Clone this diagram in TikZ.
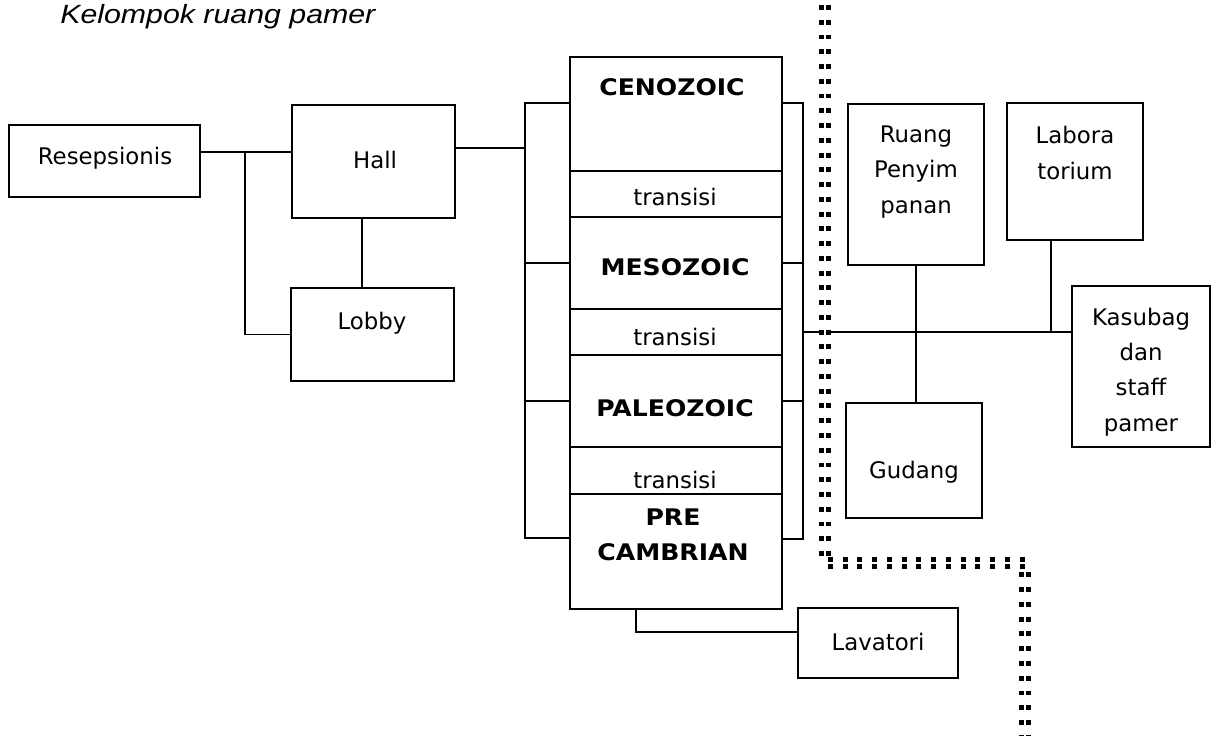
\documentclass[tikz,border=0pt]{standalone}
\usepackage{fontspec}
\setmainfont{DejaVu Sans}
\newfontfamily\titlefont{Liberation Sans}
\newcommand\widen[1]{\scalebox{1.1}[1]{#1}}
\begin{document}
\begin{tikzpicture}[x=0.02cm,y=-0.02cm,
  box/.style={draw, line width=1.5pt, inner sep=0pt},
  txt/.style={font=\fontsize{13}{20}\selectfont, align=center, inner sep=0pt},
  btxt/.style={font=\fontsize{13}{20}\selectfont\bfseries, align=center, inner sep=0pt},
  conn/.style={line width=0.8pt},
  zone/.style={line width=2.6pt, double distance=1.1pt, dash pattern=on 2.8pt off 5.6pt}]
\useasboundingbox (0,0) rectangle (1216,735);
% title
\node[anchor=base west, inner sep=0pt, font=\titlefont\itshape\fontsize{15}{18}\selectfont] (title) at (60,23) {\scalebox{1.15}[1]{Kelompok ruang pamer}};
% left group
\node[box, minimum width=191*0.02cm, minimum height=72*0.02cm] (res) at (104.5,161) {};
\node[txt] (tres) at (105,158) {Resepsionis};
\node[box, minimum width=163*0.02cm, minimum height=113*0.02cm] (hall) at (373.5,161.5) {};
\node[txt] (thall) at (375,160) {Hall};
\node[box, minimum width=163*0.02cm, minimum height=93*0.02cm] (lobby) at (372.5,334.5) {};
\node[txt] (tlobby) at (372,323) {Lobby};
% column
\node[box, minimum width=212*0.02cm, minimum height=114*0.02cm] (ceno) at (676,114) {};
\node[box, minimum width=212*0.02cm, minimum height=46*0.02cm] (tr1) at (676,194) {};
\node[box, minimum width=212*0.02cm, minimum height=92*0.02cm] (meso) at (676,263) {};
\node[box, minimum width=212*0.02cm, minimum height=46*0.02cm] (tr2) at (676,332) {};
\node[box, minimum width=212*0.02cm, minimum height=92*0.02cm] (paleo) at (676,401) {};
\node[box, minimum width=212*0.02cm, minimum height=47*0.02cm] (tr3) at (676,470.5) {};
\node[box, minimum width=212*0.02cm, minimum height=115*0.02cm] (pre) at (676,551.5) {};
\node[btxt] (tceno) at (672,87) {\widen{CENOZOIC}};
\node[txt] (ttr1) at (675,197) {transisi};
\node[btxt] (tmeso) at (675,267) {\widen{MESOZOIC}};
\node[txt] (ttr2) at (675,337) {transisi};
\node[btxt] (tpaleo) at (675,408) {\widen{PALEOZOIC}};
\node[txt] (ttr3) at (675,480) {transisi};
\node[btxt] (tpre) at (673,535) {\widen{PRE}\\\widen{CAMBRIAN}};
% right group
\node[box, minimum width=136*0.02cm, minimum height=161*0.02cm] (ruang) at (916,184.5) {};
\node[txt] (truang) at (916,172) {Ruang\\Penyim\\panan};
\node[box, minimum width=136*0.02cm, minimum height=137*0.02cm] (lab) at (1075,171.5) {};
\node[txt] (tlab) at (1075,153) {Labora\\torium};
\node[box, minimum width=138*0.02cm, minimum height=161*0.02cm] (kas) at (1141,366.5) {};
\node[txt] (tkas) at (1141,372) {Kasubag\\dan\\staff\\pamer};
\node[box, minimum width=136*0.02cm, minimum height=115*0.02cm] (gud) at (914,460.5) {};
\node[txt] (tgud) at (914,472) {Gudang};
\node[box, minimum width=160*0.02cm, minimum height=70*0.02cm] (lav) at (878,643) {};
\node[txt] (tlav) at (878,642) {Lavatori};
% junction coordinates
\coordinate (jr) at (245,152);
\coordinate (jh) at (362,0);
\coordinate (lb) at (525,148);
\coordinate (lbt) at (525,103);
\coordinate (lbb) at (525,538);
\coordinate (rbt) at (803,103);
\coordinate (rbb) at (803,539);
\coordinate (rm) at (803,332);
\coordinate (labj) at (1051,332);
\coordinate (lvj) at (636,632);
% connectors
\draw[conn] (res.east |- jr) -- (hall.west |- jr);
\draw[conn] (jr) |- (lobby.west);
\draw[conn] (hall.south -| jh) -- (lobby.north -| jh);
\draw[conn] (hall.east |- lb) -- (lb);
\draw[conn] (ceno.west |- lbt) -- (lbt) -- (lbb) -- (pre.west |- lbb);
\draw[conn] (lbt |- meso.west) -- (meso.west);
\draw[conn] (lbt |- paleo.west) -- (paleo.west);
\draw[conn] (ceno.east |- rbt) -- (rbt) -- (rbb) -- (pre.east |- rbb);
\draw[conn] (rbt |- meso.east) -- (meso.east);
\draw[conn] (rbt |- paleo.east) -- (paleo.east);
\draw[conn] (rm) -- (kas.west |- rm);
\draw[conn] (ruang.south) -- (ruang.south |- gud.north);
\draw[conn] (labj) -- (lab.south -| labj);
\draw[conn] (pre.south -| lvj) -- (lvj) -- (lav.west |- lvj);
% zone boundary
\coordinate (z1) at (825,5);
\coordinate (z2) at (825,563);
\coordinate (z3) at (1025,563);
\coordinate (z4) at (1025,735);
\draw[zone] (z1) -- (z2) -- (z3) -- (z4);
\end{tikzpicture}
\end{document}
